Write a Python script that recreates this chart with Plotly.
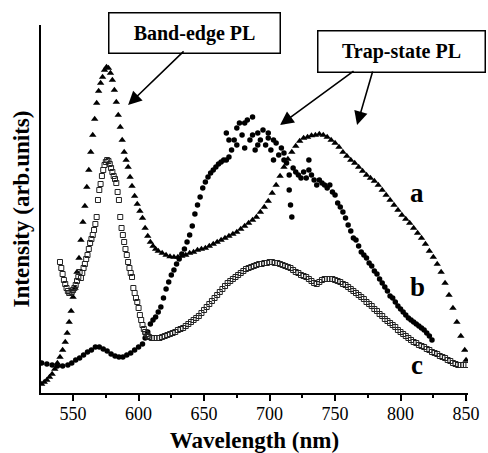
import plotly.graph_objects as go

# ---- data (wavelength in nm, intensity in arbitrary units) ----
a_wl = [526, 528, 530, 532, 534, 536, 538, 540, 542, 544, 545.5, 547, 548.5, 550, 551.5, 553, 554.5,
        556, 557.5, 559, 560.5, 562, 563.5, 565, 566.5, 568, 569.5, 571, 572.5, 574, 575.5, 577,
        578.5, 580, 581.5, 583, 584.5, 586, 587.5, 589, 590.5, 592, 593.5, 595, 597, 599, 601, 603,
        605, 607, 609, 611, 613, 615, 618, 621, 624, 627, 630, 633, 636, 639, 642, 645, 648, 651,
        654, 657, 660, 663, 666, 669, 672, 675, 678, 681, 684, 687, 690, 693, 696, 699, 702, 705,
        708, 711, 714, 717, 720, 723, 726, 729, 732, 735, 738, 741, 744, 747, 750, 753, 756, 759,
        762, 765, 768, 771, 774, 777, 780, 783, 786, 789, 792, 795, 798, 801, 804, 807, 810, 813,
        816, 819, 822, 825, 828, 831, 834, 837, 840, 843, 846, 849, 850]
a_int = [9, 11, 13, 16, 19, 24, 30, 36, 43, 51, 60, 71, 82, 96, 105, 121, 135,
         153, 171, 187, 206, 223, 241, 258, 274, 290, 302, 310, 316, 323, 326, 325,
         320, 313, 303, 291, 278, 266, 253, 241, 233, 226, 216, 207, 197, 189, 182, 175,
         165, 157, 151, 147, 144, 142, 140, 138, 136.5, 136, 136, 137, 138, 140, 141, 143, 144, 145,
         147, 149, 151, 153, 155, 157, 159, 161, 164, 167, 170, 173, 176, 181, 186, 192, 200, 208,
         217, 226, 234, 241, 247, 252, 255, 256, 257.5, 258, 259, 258, 256, 253, 250, 246, 241, 237,
         233, 230, 226, 222, 218, 215, 212, 208, 203, 198, 193, 188, 183, 178, 174, 170, 165, 160,
         155, 149, 142, 136, 129, 121, 110, 98, 85, 71, 57, 43, 33]

b_wl = [526, 530, 534, 538, 542, 546, 549, 552, 555, 558, 561, 564, 567, 570, 573, 576, 579, 582,
        585, 588, 591, 594, 597, 600, 603, 605, 607, 609, 611, 613, 615, 617, 619, 621, 623, 625,
        627, 629, 631, 633, 635, 637, 639, 641, 643, 645, 647, 649, 651, 653, 655, 657, 659, 661,
        663, 665, 667, 667, 669, 669, 671, 673, 675, 675, 677, 679, 681, 681, 683, 685, 687, 687,
        689, 691, 691, 693, 695, 697, 699, 699, 701, 703, 703, 705, 707, 709, 711, 711, 713, 715,
        715, 716, 717, 718, 720, 722, 724, 726, 728, 730, 730, 732, 734, 736, 738, 740, 742, 744,
        746, 748, 750, 752, 754, 756, 758, 760, 762, 764, 766, 768, 770, 772, 774, 776, 778, 780,
        782, 784, 786, 788, 790, 792, 794, 796, 798, 800, 802, 804, 806, 808, 810, 812, 814, 816,
        818, 820, 822, 824]
b_int = [30, 29, 28, 27, 27, 28, 30, 33, 35, 38, 41, 43, 46, 46, 44, 42, 39, 37,
         36, 36, 38, 40, 43, 46, 49, 55, 61, 69, 73, 76, 81, 86, 95, 104, 111, 118,
         123, 129, 134, 139, 144, 151, 158, 167, 179, 188, 196, 205, 211, 216, 220, 223, 226, 229,
         231, 233, 233, 260, 236, 253, 243, 253, 248, 265, 270, 258, 270, 245, 273, 253, 276, 258,
         243, 260, 248, 253, 263, 248, 260, 255, 243, 233, 253, 250, 238, 245, 240, 233, 230, 218,
         203, 188, 176, 225, 221, 218, 215, 221, 215, 223, 233, 218, 213, 208, 213, 210, 208, 205,
         208, 201, 198, 190, 186, 181, 175, 168, 162, 155, 153, 147, 141, 138, 135, 130, 127, 122,
         119, 114, 110, 106, 102, 97, 95, 91, 87, 84, 81, 78, 75, 73, 71, 69, 67, 65,
         63, 60, 57, 53]

c_wl = [540, 541, 542, 543, 544, 545, 546, 547, 548, 549, 550, 551, 552, 553, 554, 555, 556, 557,
        558, 559, 560, 561, 562, 563, 564, 565, 566, 567, 568, 569, 570, 571, 572, 573, 574, 575,
        576, 577, 578, 579, 580, 581, 582, 583, 584, 585, 586, 587, 588, 589, 590, 591, 592, 593,
        594, 595, 596, 597, 598, 599, 600, 601, 602, 603, 604, 605, 606, 607, 608, 610, 612, 614,
        616, 618, 620, 622, 624, 626, 628, 630, 632, 634, 636, 638, 640, 642, 644, 646, 648, 650,
        652, 654, 656, 658, 660, 662, 664, 666, 668, 670, 672, 674, 676, 678, 680, 682, 684, 686,
        688, 690, 692, 694, 696, 698, 700, 702, 704, 706, 708, 710, 712, 714, 716, 718, 720, 722,
        724, 726, 728, 730, 732, 734, 736, 738, 740, 742, 744, 746, 748, 750, 752, 754, 756, 758,
        760, 762, 764, 766, 768, 770, 772, 774, 776, 778, 780, 782, 784, 786, 788, 790, 792, 794,
        796, 798, 800, 802, 804, 806, 808, 810, 812, 814, 816, 818, 820, 822, 824, 826, 828, 830,
        832, 834, 836, 838, 840, 842, 844, 846, 848, 850]
c_int = [131, 125, 119, 113, 109, 105, 102, 100, 100, 101, 103, 105, 108, 112, 116, 121, 115, 120,
         125, 129, 134, 138, 144, 150, 154, 158, 163, 169, 176, 193, 203, 209, 217, 223, 228, 231,
         233, 232, 229, 225, 221, 217, 214, 210, 201, 193, 176, 165, 158, 151, 144, 138, 131, 125,
         120, 116, 105, 100, 95, 91, 85, 78, 73, 68, 64, 61, 59, 57, 56, 55, 55, 55,
         55, 56, 57, 58, 59, 60, 61, 63, 64, 65, 67, 69, 71, 73, 75, 77, 80, 83,
         86, 89, 92, 95, 98, 101, 104, 107, 110, 112, 114, 116, 118, 120, 122, 124, 125, 126,
         127, 128, 129, 129, 130, 130, 131, 131, 130, 130, 129, 128, 127, 126, 125, 123, 121, 120,
         118, 117, 116, 114, 112, 110, 109, 111, 113, 114, 114, 114, 114, 113, 112, 111, 109, 108,
         106, 104, 102, 100, 98, 96, 94, 91, 89, 87, 84, 82, 79, 77, 74, 72, 70, 68,
         66, 63, 61, 59, 57, 55, 53, 51, 50, 48, 47, 46, 44, 43, 41, 40, 39, 37,
         36, 35, 33, 32, 30, 29, 28, 28, 28, 28]

x_ticks = [550, 600, 650, 700, 750, 800, 850]

SERIF = "Liberation Serif, Times New Roman, serif"

fig = go.Figure()
fig.add_trace(go.Scatter(x=a_wl, y=a_int, mode="markers", name="a",
                         marker=dict(symbol="triangle-up", size=6.5, color="black", line=dict(width=0))))
fig.add_trace(go.Scatter(x=b_wl, y=b_int, mode="markers", name="b",
                         marker=dict(symbol="circle", size=5.5, color="black", line=dict(width=0))))
fig.add_trace(go.Scatter(x=c_wl, y=c_int, mode="markers", name="c",
                         marker=dict(symbol="square-open", size=5, color="#222222", line=dict(width=1))))

annos = []
# curve labels
for lab, xv, yv in [("a", 812.6, 200), ("b", 812.6, 106), ("c", 812.6, 28)]:
    annos.append(dict(x=xv, y=yv, xref="x", yref="y", text=lab, showarrow=False,
                      font=dict(family=SERIF, size=27, color="black", weight="bold")))
# boxed labels
annos.append(dict(x=642.4, y=360.5, xref="x", yref="y", text="<b>Band-edge PL</b>", showarrow=False,
                  font=dict(family=SERIF, size=20, color="black"), bordercolor="black", borderwidth=1.5,
                  borderpad=0, width=170, height=39, bgcolor="white"))
annos.append(dict(x=801.1, y=342, xref="x", yref="y", text="<b>Trap-state PL</b>", showarrow=False,
                  font=dict(family=SERIF, size=20, color="black"), bordercolor="black", borderwidth=1.5,
                  borderpad=0, width=166, height=40, bgcolor="white"))
# arrows
for hx, hy, ax, ay in [(592.0, 288, 57, -55), (708.0, 268, 75, -55), (766.8, 268, 16, -55)]:
    annos.append(dict(x=hx, y=hy, xref="x", yref="y", ax=ax, ay=ay, axref="pixel", ayref="pixel",
                      text="", showarrow=True, arrowhead=2, arrowsize=1.7, arrowwidth=1.6,
                      arrowcolor="black", standoff=0, startstandoff=0))

fig.update_layout(
    width=488, height=453,
    margin=dict(l=41, r=20, t=25, b=60, autoexpand=False),
    paper_bgcolor="white", plot_bgcolor="white",
    showlegend=False,
    font=dict(family=SERIF, color="black"),
    annotations=annos,
    xaxis=dict(range=[525.5, 851.5], tickvals=x_ticks, ticktext=[str(v) for v in x_ticks],
               automargin=False,
               showgrid=False, zeroline=False, showline=True, linecolor="black", linewidth=2,
               ticks="outside", ticklen=6, tickwidth=1.5, tickcolor="black", ticklabelstandoff=-3,
               tickfont=dict(family=SERIF, size=18, color="black"),
               minor=dict(ticks="outside", ticklen=3, tickwidth=1.5, tickcolor="black", dtick=25, tick0=0),
               title=dict(text="<b>Wavelength (nm)</b>", font=dict(family=SERIF, size=23, color="black"),
                          standoff=16)),
    yaxis=dict(range=[0, 368], showticklabels=False, ticks="", showgrid=False, zeroline=False,
               automargin=False,
               showline=True, linecolor="black", linewidth=2,
               title=dict(text="<b>Intensity (arb.units)</b>", font=dict(family=SERIF, size=23, color="black"),
                          standoff=3)),
)

fig.write_html("out.html")
